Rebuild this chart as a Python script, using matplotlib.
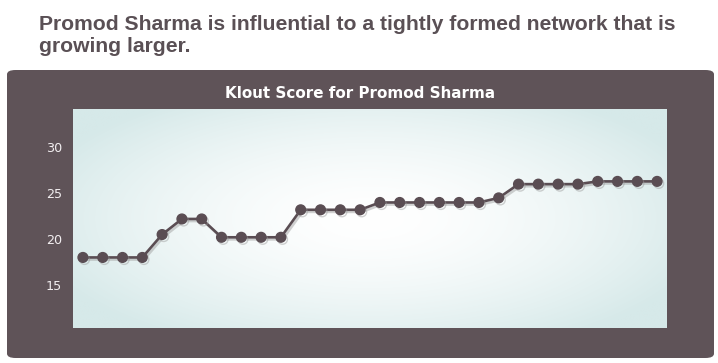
import numpy as np
import matplotlib
matplotlib.use("Agg")
import matplotlib.pyplot as plt
from matplotlib.patches import FancyBboxPatch
import matplotlib.patheffects as pe

headline = "Promod Sharma is influential to a tightly formed network that is\ngrowing larger."
chart_title = "Klout Score for Promod Sharma"
days = list(range(1, 31))
scores = [18.0, 18.0, 18.0, 18.0, 20.5, 22.2, 22.2, 20.2, 20.2, 20.2,
          20.2, 23.2, 23.2, 23.2, 23.2, 24.0, 24.0, 24.0, 24.0, 24.0,
          24.0, 24.5, 26.0, 26.0, 26.0, 26.0, 26.3, 26.3, 26.3, 26.3]
yticks = [15, 20, 25, 30]

W, H = 718, 363
fig = plt.figure(figsize=(W / 100, H / 100), dpi=100)
fig.patch.set_facecolor("white")

panel_col = "#5f5358"
# rounded panel
px0, py0, px1, py1 = 7, 70, 714, 358
panel = FancyBboxPatch((px0 / W, 1 - py1 / H), (px1 - px0) / W, (py1 - py0) / H,
                       boxstyle="round,pad=0,rounding_size=0.012",
                       transform=fig.transFigure, facecolor=panel_col,
                       edgecolor="none", zorder=0)
fig.patches.append(panel)

fig.text(39 / W, 1 - 52 / H, headline, ha="left", va="baseline",
         fontsize=15.2, fontweight="bold", color="#5a5055",
         family="Liberation Sans", linespacing=1.22, zorder=5)

fig.text(360 / W, 1 - 98 / H, chart_title, ha="center", va="baseline",
         fontsize=10.9, fontweight="bold", color="white", family="DejaVu Sans",
         zorder=5)

ax0, ay0, ax1, ay1 = 73, 109, 667, 328
ax = fig.add_axes([ax0 / W, 1 - ay1 / H, (ax1 - ax0) / W, (ay1 - ay0) / H])
ax.set_zorder(3)
ax.set_facecolor("#d8eaea")

# radial gradient background
gx = np.linspace(-1, 1, 300)
gy = np.linspace(-1, 1, 150)
GX, GY = np.meshgrid(gx, gy)
r = np.sqrt((GX * 1.0) ** 2 + (GY * 0.9) ** 2) / np.sqrt(2)
r = np.clip(r * 1.2, 0, 1)
c0 = np.array([1.0, 1.0, 1.0])
c1 = np.array([0xd6, 0xe9, 0xe9]) / 255.0
t = r[..., None] ** 1.6
img = c0[None, None, :] * (1 - t) + c1[None, None, :] * t
ax.imshow(img, extent=[0, 1, 0, 1], transform=ax.transAxes, aspect="auto",
          zorder=0, interpolation="bilinear")

line_col = "#5a4d53"
ax.plot(days, scores, color=line_col, lw=1.9, marker="o", ms=7.0,
        markerfacecolor=line_col, markeredgecolor=line_col, zorder=3,
        path_effects=[pe.SimpleLineShadow(offset=(1.2, -1.5), shadow_color="#9a9a9a", alpha=0.45),
                      pe.Normal()])

ax.set_xlim(0.5, 30.5)
ax.set_ylim(10.3, 34.2)
ax.set_yticks(yticks)
ax.set_yticklabels([str(t) for t in yticks])
ax.set_xticks([])
ax.tick_params(axis="y", length=0, pad=8, labelsize=9.2, labelcolor="#f2eef0")
for s in ax.spines.values():
    s.set_visible(False)

fig.savefig("out.png", dpi=100, facecolor="white")
